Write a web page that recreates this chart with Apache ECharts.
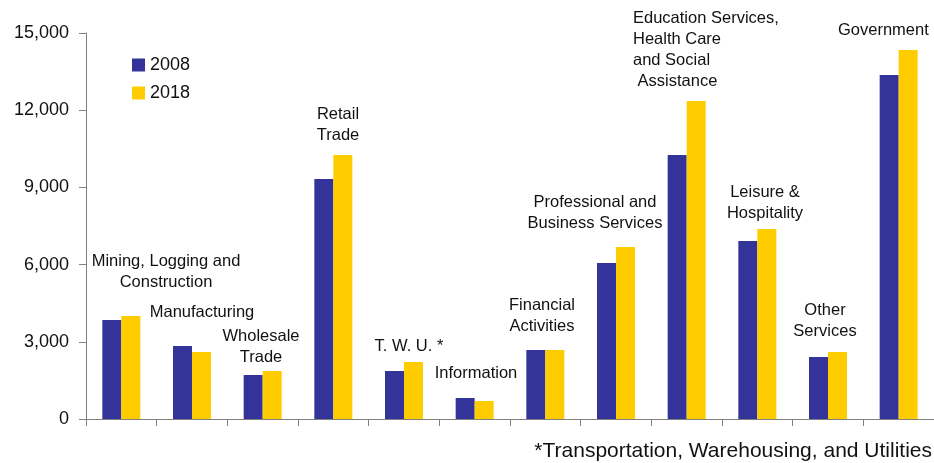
<!DOCTYPE html>
<html>
<head>
<meta charset="utf-8">
<script src="https://cdn.jsdelivr.net/npm/echarts@6/dist/echarts.min.js"></script>
<style>
  html, body { margin: 0; padding: 0; background: #fff; }
  #chart { width: 934px; height: 463px; }
</style>
</head>
<body>
<div id="chart"></div>
<script>
// industries (thousands of jobs)
var categories = ['Mining, Logging and Construction', 'Manufacturing', 'Wholesale Trade', 'Retail Trade',
  'T. W. U.', 'Information', 'Financial Activities', 'Professional and Business Services',
  'Education Services, Health Care and Social Assistance', 'Leisure & Hospitality', 'Other Services', 'Government'];
var values2008 = [3850, 2840, 1710, 9330, 1865, 815, 2680, 6060, 10260, 6920, 2410, 13370];
var values2018 = [4000, 2600, 1865, 10260, 2215, 700, 2680, 6685, 12360, 7385, 2605, 14340];
var yTicks = [0, 3000, 6000, 9000, 12000, 15000];

// text labels placed over the bars
var notes = [
  { text: 'Mining, Logging and\nConstruction', x: 166, y: 272 },
  { text: 'Manufacturing', x: 202, y: 312 },
  { text: 'Wholesale\nTrade', x: 261, y: 347 },
  { text: 'Retail\nTrade', x: 338, y: 125 },
  { text: 'T. W. U. *', x: 409, y: 346 },
  { text: 'Information', x: 476, y: 373 },
  { text: 'Financial\nActivities', x: 542, y: 316 },
  { text: 'Professional and\nBusiness Services', x: 595, y: 213 },
  { text: 'Education Services,\nHealth Care\nand Social\n Assistance', x: 633, y: 50, align: 'left' },
  { text: 'Leisure &\nHospitality', x: 765, y: 203 },
  { text: 'Other\nServices', x: 825, y: 321 },
  { text: 'Government', x: 838, y: 30, align: 'left' }
];

var chart = echarts.init(document.getElementById('chart'));

var graphics = [];
for (var i = 0; i < notes.length; i++) {
  graphics.push({
    type: 'text',
    x: notes[i].x,
    y: notes[i].y,
    z: 10,
    style: {
      text: notes[i].text,
      fill: '#111',
      font: '16.5px "Liberation Sans", Arial, sans-serif',
      lineHeight: 21,
      align: notes[i].align || 'center',
      verticalAlign: 'middle'
    }
  });
}
graphics.push({
  type: 'text',
  right: 2,
  top: 441,
  style: {
    text: '*Transportation, Warehousing, and Utilities',
    fill: '#111',
    font: '21px "Liberation Sans", Arial, sans-serif'
  }
});

var option = {
  animation: false,
  backgroundColor: '#fff',
  textStyle: { fontFamily: '"Liberation Sans", Arial, sans-serif' },
  legend: {
    orient: 'vertical',
    left: 127,
    top: 51,
    itemWidth: 13,
    itemHeight: 13,
    itemGap: 10,
    icon: 'rect',
    textStyle: { fontSize: 18, color: '#111', padding: [0, 0, 0, 0] },
    data: ['2008', '2018']
  },
  grid: {
    left: 86,
    top: 33,
    width: 851,
    height: 386
  },
  xAxis: {
    type: 'category',
    data: categories,
    axisLine: { lineStyle: { color: '#808080', width: 1 } },
    axisTick: { show: true, interval: 0, length: 7, lineStyle: { color: '#808080' } },
    axisLabel: { show: false, interval: 0 },
    splitLine: { show: false }
  },
  yAxis: {
    type: 'value',
    min: yTicks[0],
    max: yTicks[yTicks.length - 1],
    interval: 3000,
    axisLine: { show: true, lineStyle: { color: '#808080', width: 1 } },
    axisTick: { show: true, length: 7, lineStyle: { color: '#808080' } },
    axisLabel: {
      fontSize: 18,
      color: '#111',
      margin: 17,
      formatter: function(v) {
        return String(v).replace(/\B(?=(\d{3})+(?!\d))/g, ',');
      }
    },
    splitLine: { show: false }
  },
  series: [{
    name: '2008',
    type: 'bar',
    data: values2008,
    barWidth: 19,
    barGap: '0%',
    itemStyle: { color: '#333399' }
  }, {
    name: '2018',
    type: 'bar',
    data: values2018,
    barWidth: 19,
    barGap: '0%',
    itemStyle: { color: '#FFCC00' }
  }],
  graphic: graphics
};
chart.setOption(option);
</script>
</body>
</html>
